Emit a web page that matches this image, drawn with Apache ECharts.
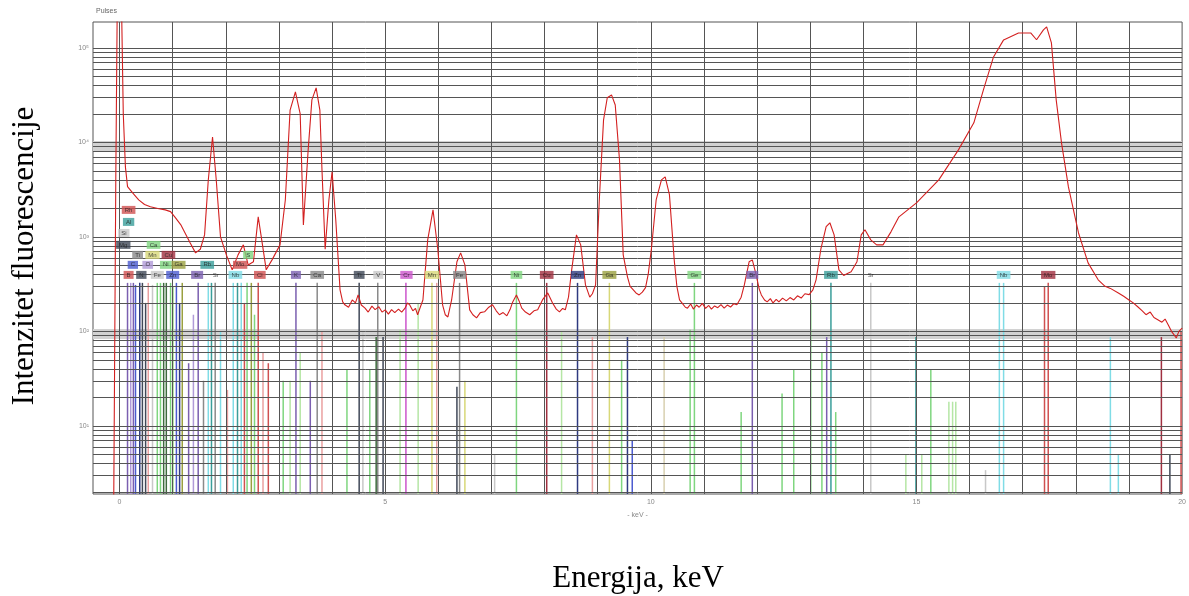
<!DOCTYPE html>
<html>
<head>
<meta charset="utf-8">
<title>XRF spektar</title>
<script src="https://cdn.jsdelivr.net/npm/echarts@6/dist/echarts.min.js"></script>
<style>
  html, body { margin: 0; padding: 0; background: #fff; }
  #chart { width: 1189px; height: 596px; }
</style>
</head>
<body>
<div id="chart"></div>
<script>
// spektar (energija u keV, broj impulsa)
const specEnergy = [-0.11,-0.07,-0.04,0.03,0.07,0.11,0.15,0.25,0.36,0.47,0.58,0.72,0.86,0.96,1.05,1.15,1.24,1.33,1.43,1.52,1.60,1.67,1.75,1.82,1.90,2.01,2.12,2.23,2.33,2.42,2.52,2.61,2.69,2.76,2.87,3.02,3.12,3.21,3.31,3.40,3.46,3.55,3.62,3.70,3.77,3.81,3.87,3.94,4.00,4.07,4.15,4.20,4.24,4.31,4.38,4.44,4.49,4.55,4.62,4.68,4.75,4.81,4.88,4.94,5.00,5.06,5.12,5.18,5.25,5.31,5.37,5.42,5.46,5.52,5.57,5.61,5.66,5.71,5.80,5.90,5.99,6.08,6.13,6.18,6.25,6.35,6.42,6.50,6.59,6.65,6.72,6.79,6.87,6.95,7.02,7.09,7.15,7.22,7.29,7.35,7.40,7.47,7.52,7.57,7.64,7.72,7.80,7.87,7.96,8.06,8.15,8.22,8.28,8.34,8.39,8.45,8.51,8.60,8.68,8.77,8.85,8.90,8.96,9.03,9.11,9.18,9.26,9.33,9.41,9.48,9.56,9.61,9.67,9.72,9.78,9.84,9.90,9.95,10.01,10.10,10.20,10.27,10.35,10.44,10.49,10.54,10.60,10.65,10.69,10.75,10.80,10.86,10.91,10.97,11.03,11.09,11.14,11.20,11.26,11.32,11.38,11.44,11.50,11.56,11.62,11.70,11.76,11.85,11.91,11.98,12.04,12.08,12.14,12.19,12.25,12.30,12.36,12.41,12.48,12.55,12.62,12.69,12.76,12.83,12.90,12.98,13.05,13.11,13.20,13.30,13.37,13.45,13.54,13.63,13.70,13.77,13.88,13.96,14.03,14.14,14.25,14.37,14.52,14.67,15.00,15.42,15.79,16.08,16.26,16.45,16.64,16.92,17.15,17.26,17.39,17.45,17.54,17.63,17.73,17.86,18.05,18.23,18.42,18.55,18.65,18.80,18.90,19.00,19.08,19.17,19.25,19.32,19.40,19.47,19.55,19.62,19.68,19.74,19.80,19.86,19.89,19.94,20.0];
const specCounts = [1.5,5000,500000,500000,20000,5500,3400,2900,2460,2200,2080,2000,1930,1850,1600,1350,1080,860,677,740,1050,4000,11400,4000,1000,645,448,645,823,505,545,1630,823,448,571,823,2460,22000,34200,20000,1340,8330,28200,37700,22000,5100,740,2460,4880,1500,275,205,191,180,215,200,243,190,176,160,185,170,182,160,169,152,170,158,172,160,175,200,191,165,175,150,180,215,930,1930,740,191,150,142,215,545,677,505,169,150,139,158,161,180,191,165,150,158,146,170,205,243,210,176,160,150,165,169,215,255,200,172,161,175,169,230,448,1050,823,310,230,250,310,2460,17300,29700,31800,24900,6530,645,378,300,275,255,243,260,290,400,740,2460,4010,4310,2800,571,300,215,195,180,176,195,172,190,180,198,175,188,172,186,178,192,176,190,181,196,191,230,310,545,571,400,280,243,215,205,222,200,218,205,225,210,228,215,238,225,250,245,275,351,740,1280,1410,1050,448,390,410,428,545,1050,1190,930,823,823,1130,1630,2290,4010,8330,16100,36000,80300,121600,144000,144000,122000,155000,167000,113000,28200,9880,3380,1100,531,351,300,285,255,235,215,200,181,165,150,160,140,132,125,135,117,100,90,85,100,108];

// linije elemenata (energija, visina, grupa boje)
const lineEnergy = [0.15,0.21,0.26,0.30,0.38,0.43,0.49,0.54,0.62,0.71,0.77,0.83,0.88,0.96,1.01,1.07,1.13,1.18,1.30,1.39,1.48,1.58,1.67,1.73,1.80,1.90,2.03,2.14,2.22,2.29,2.35,2.40,2.48,2.54,2.61,2.70,2.80,3.08,3.21,3.32,3.40,3.59,3.72,3.81,4.28,4.51,4.58,4.71,4.83,4.86,4.96,5.28,5.39,5.62,5.88,5.97,6.35,6.40,6.50,7.06,7.47,8.04,8.32,8.62,8.90,9.22,9.45,9.56,9.65,10.25,10.74,10.82,11.70,11.91,12.47,12.69,13.01,13.22,13.31,13.39,13.48,14.14,14.80,14.99,15.10,15.27,15.61,15.68,15.74,16.30,16.56,16.64,17.41,17.48,18.65,18.80,19.61,19.77,19.98];
const lineTop = [326,326,326,310,326,326,200,326,310,326,326,326,326,326,300,326,200,326,46,150,326,30,326,326,326,100,24,326,326,326,200,326,326,150,326,60,46,30,30,326,60,30,326,100,39,326,100,39,87,326,87,104,326,200,326,326,26,326,30,5,326,326,100,326,87,326,50,87,7,87,104,326,14,326,22,39,215,60,87,326,14,326,5,87,5,40,18,18,18,3.4,326,326,300,326,87,5,87,5,100];
const lineGroup = ['purple','lilac','purple','blue','navy','dark','dark','pink','lgrey','green','green','dgreen','dgreen','green','lgreen','blue','navy','olive','purple','lilac','purple','grey','cyan','teal','grey','cyan','pink','cyan','teal','cyan','red','green','olive','green','red','pink','red','green','lgreen','purple','lgreen','purple','grey','pink','green','dark','lgrey','green','dgreen','grey','dark','lgreen','magenta','lgreen','yellow','pink','dark','grey','yellow','lgrey','green','darkred','lgreen','navy','pink','yellow','green','navy','blue','beige','green','green','green','purple','green','green','green','green','purple','teal','green','lgrey','lgreen','teal','lgreen','green','lgreen','lgreen','lgreen','lgrey','cyan','cyan','red','red','cyan','cyan','darkred','dark','red'];

// oznake elemenata
const labelEnergy = [0.17,0.41,0.71,1.00,1.46,1.81,2.18,2.64,0.25,0.53,0.87,1.11,1.65,2.27,0.34,0.62,0.92,2.42,0.07,0.64,0.08,0.17,0.17,3.32,3.72,4.51,4.87,5.40,5.88,6.40,7.47,8.04,8.62,9.22,10.82,11.91,13.39,14.14,16.64,17.48];
const labelCount = [396,396,396,396,396,396,396,396,506,506,506,506,506,506,645,645,645,645,823,823,1100,1440,1930,396,396,396,396,396,396,396,396,396,396,396,396,396,396,396,396,396];
const labelText = ['B','N','Fe','Zn','Br','Sr','Nb','Cl','C','O','Ni','Ga','Rb','Mo','Ti','Mn','Cu','S','Mg','Ca','Si','Al','Rh','K','Ca','Ti','V','Cr','Mn','Fe','Ni','Cu','Zn','Ga','Ge','Br','Rb','Sr','Nb','Mo'];
const labelGroup = ['red','dark','lgrey','blue','purple','none','cyan','red','blue','lilac','green','olive','teal','red','grey','yellow','darkred','green','dark','green','lgrey','teal','red','purple','grey','dark','lgrey','magenta','yellow','grey','green','darkred','navy','olive','green','purple','teal','none','cyan','darkred'];

// mreza
const xGridValues = [0,1,2,3,4,5,6,7,8,9,10,11,12,13,14,15,16,17,18,19];
const xLabelValues = [0, 5, 10, 15, 20];
const yBands = [[8130, 10370], [83, 106]];

const palette = {
  purple: '#7b5fb0', lilac: '#b09ad8', blue: '#4b5bd0', navy: '#2e3a80',
  dark: '#404858', pink: '#eaa0a0', red: '#d05050', darkred: '#a03040',
  green: '#7fd67f', lgreen: '#b5e6a5', dgreen: '#3d6b3d', olive: '#9aa040',
  yellow: '#d8d878', cyan: '#80dce6', teal: '#3a9e9a', grey: '#8a8a8a',
  lgrey: '#c8c8c8', magenta: '#cc55cc', beige: '#d8d0b0', none: 'transparent'
};

const Y_MIN = 1.9;
const Y_MAX = 188000;

// horizontalne linije 1..9 x 10^n
const yGridValues = [];
for (let p = 0; p <= 5; p++) {
  for (let k = 1; k <= 9; k++) {
    const v = k * Math.pow(10, p);
    if (v > Y_MIN && v < Y_MAX) yGridValues.push(v);
  }
}

const supers = { 0: '⁰', 1: '¹', 2: '²', 3: '³', 4: '⁴', 5: '⁵' };

const chart = echarts.init(document.getElementById('chart'));

const option = {
  animation: false,
  backgroundColor: '#fff',
  grid: { left: 93, right: 4, top: 22, bottom: 102, show: true, borderColor: '#555', borderWidth: 1 },
  xAxis: {
    type: 'value', min: -0.5, max: 20,
    axisLine: { show: false }, axisTick: { show: false, customValues: xLabelValues },
    splitLine: { show: false },
    axisLabel: { customValues: xLabelValues, fontSize: 7, color: '#888', margin: 5, fontFamily: 'Arial' },
    name: '- keV -', nameLocation: 'middle', nameGap: 18,
    nameTextStyle: { fontSize: 7, color: '#888' }
  },
  yAxis: {
    type: 'log', logBase: 10, min: Y_MIN, max: Y_MAX,
    axisLine: { show: false }, axisTick: { show: false }, splitLine: { show: false },
    axisLabel: {
      fontSize: 7, color: '#888', margin: 4,
      formatter: (v) => {
        const p = Math.log10(v);
        if (Math.abs(p - Math.round(p)) > 1e-6) return '';
        return '10' + supers[Math.round(p)];
      }
    }
  },
  graphic: [
    { type: 'text', left: 96, top: 8, style: { text: 'Pulses', fontSize: 7, fill: '#666' } },
    {
      type: 'text', x: 25, y: 256, rotation: Math.PI / 2,
      style: {
        text: 'Intenzitet fluorescencije', font: '31px "Liberation Serif"', fill: '#000',
        align: 'center', verticalAlign: 'middle', textAlign: 'center', textVerticalAlign: 'middle'
      }
    },
    {
      type: 'text', x: 638, y: 579,
      style: {
        text: 'Energija, keV', font: '31px "Liberation Serif"', fill: '#000',
        align: 'center', verticalAlign: 'middle', textAlign: 'center', textVerticalAlign: 'middle'
      }
    }
  ],
  series: [
    {
      // mreza i sive trake
      type: 'line', data: [], silent: true, z: 3,
      markLine: {
        silent: true, symbol: 'none', label: { show: false },
        lineStyle: { color: '#555', width: 1, type: 'solid' },
        data: xGridValues.map(v => ({ xAxis: v })).concat(yGridValues.map(v => ({ yAxis: v })))
      },
      markArea: {
        silent: true, itemStyle: { color: '#d2d2d2' },
        data: yBands.map(b => [{ yAxis: b[0] }, { yAxis: b[1] }])
      }
    },
    {
      type: 'custom', z: 2, silent: true,
      data: lineEnergy.map((e, i) => [e, lineTop[i]]),
      renderItem: (params, api) => {
        const p0 = api.coord([api.value(0), Y_MIN]);
        const p1 = api.coord([api.value(0), api.value(1)]);
        return {
          type: 'line',
          shape: { x1: p0[0], y1: p0[1], x2: p1[0], y2: p1[1] },
          style: { stroke: palette[lineGroup[params.dataIndex]], lineWidth: 1.5 }
        };
      }
    },
    {
      type: 'line', z: 5, showSymbol: false, silent: true,
      data: specEnergy.map((e, i) => [e, specCounts[i]]),
      lineStyle: { color: '#d32020', width: 1.1 },
      clip: true
    },
    {
      type: 'scatter', z: 6, symbolSize: 0, silent: true,
      data: labelEnergy.map((e, i) => ({
        value: [e, labelCount[i]],
        label: {
          show: true, position: 'inside', formatter: labelText[i],
          fontSize: 6, color: '#222',
          backgroundColor: palette[labelGroup[i]], padding: [1, 3]
        }
      }))
    }
  ]
};

chart.setOption(option);
</script>
</body>
</html>
